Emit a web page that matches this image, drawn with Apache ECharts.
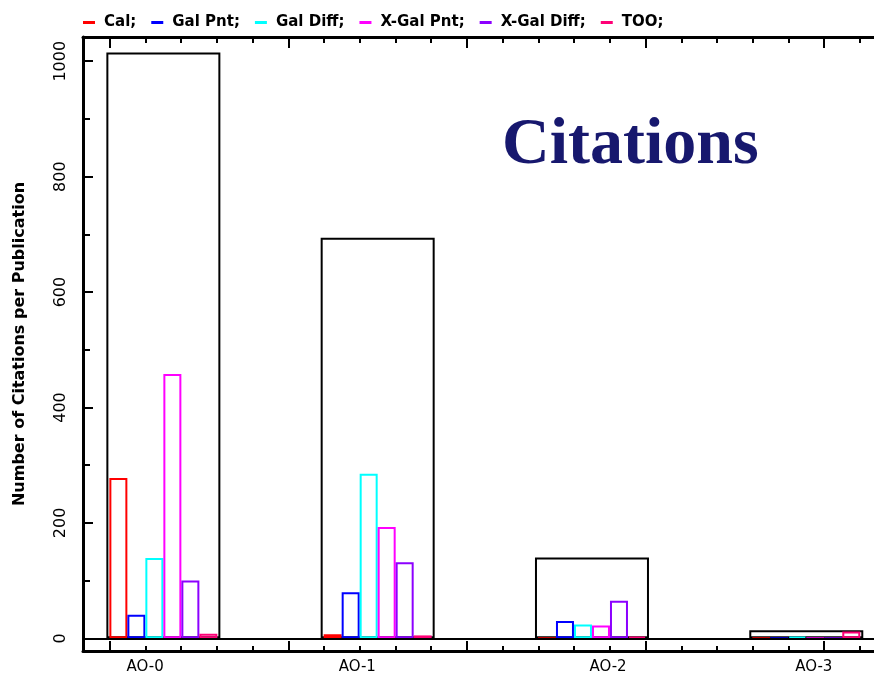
<!DOCTYPE html>
<html>
<head>
<meta charset="utf-8">
<script src="https://cdn.jsdelivr.net/npm/echarts@6/dist/echarts.min.js"></script>
<style>html,body{margin:0;padding:0;background:#fff;}#c{width:874px;height:681px;}</style>
</head>
<body>
<div id="c"></div>
<script>
// ---- data ----
var categories = ['AO-0', 'AO-1', 'AO-2', 'AO-3'];
var seriesNames = ['Cal', 'Gal Pnt', 'Gal Diff', 'X-Gal Pnt', 'X-Gal Diff', 'TOO'];
var cal      = [278, 7, 0, 0];
var galPnt   = [41, 80, 30, 0];
var galDiff  = [139, 285, 24, 3];
var xgalPnt  = [458, 193, 22, 0];
var xgalDiff = [100, 132, 65, 0];
var too      = [8, 5, 3, 12];
var total    = [1015, 694, 140, 14];
var yTickLabels = [0, 200, 400, 600, 800, 1000];
var yMinorTicks = [100, 300, 500, 700, 900];
var xLabelPos = [-0.085, 0.905, 2.075, 3.035];

// ---- styling ----
var colors = ['#ff0000', '#0000ff', '#00ffff', '#ff00ff', '#8c00ff', '#ff0077'];
var seriesValues = [cal, galPnt, galDiff, xgalPnt, xgalDiff, too];
var font = 'DejaVu Sans';
var XMIN = -0.375, XMAX = 3.316, YMIN = -22, YMAX = 1042;

var xMinor = [], xMajor = [];
for (var k = 0; k <= 21; k++) {
  var v = -0.25 + k / 6;
  if (k % 5 === 0) xMajor.push(v); else xMinor.push(v);
}

function pairs(arr) { return arr.map(function (v, i) { return [i, v]; }); }

var series = seriesValues.map(function (vals, i) {
  return {
    type: 'bar', name: seriesNames[i], xAxisIndex: 0, yAxisIndex: 0,
    data: pairs(vals), barWidth: 18, barGap: 0, z: 3,
    itemStyle: { color: 'rgba(0,0,0,0)', borderColor: colors[i], borderWidth: 2 },
    emphasis: { disabled: true }, animation: false
  };
});
series.push({
  type: 'bar', name: 'Total', xAxisIndex: 1, yAxisIndex: 0,
  data: pairs(total), barWidth: 114, z: 2,
  itemStyle: { color: 'rgba(0,0,0,0)', borderColor: '#000', borderWidth: 2 },
  emphasis: { disabled: true }, animation: false,
  markLine: { silent: true, symbol: 'none', z: 10, animation: false,
    label: { show: false },
    lineStyle: { color: '#000', width: 2, type: 'solid' },
    data: [{ yAxis: 0 }] }
});

var gridRect = { left: 83, right: 0, top: 37, bottom: 30 };
var axisLineStyle = { show: true, onZero: false, lineStyle: { color: '#000', width: 3 } };
var noLine = { show: false, onZero: false };

var chart = echarts.init(document.getElementById('c'), null, { renderer: 'canvas' });
chart.setOption({
  animation: false,
  backgroundColor: '#fff',
  title: {
    text: 'Citations', left: 497, top: 108,
    textStyle: { fontFamily: 'Liberation Serif', fontWeight: 'bold', fontSize: 66, color: '#17186e' }
  },
  legend: {
    left: 78, top: 10, icon: 'rect', itemWidth: 12, itemHeight: 3, itemGap: 15,
    selectedMode: false,
    formatter: function (n) { return n + ';'; },
    textStyle: { fontFamily: font, fontWeight: 'bold', fontSize: 15, color: '#000', padding: [0, 0, 0, 4] },
    data: seriesNames.map(function (n, i) { return { name: n, itemStyle: { color: colors[i], borderWidth: 0 } }; })
  },
  grid: [
    Object.assign({}, gridRect),
    Object.assign({}, gridRect)
  ],
  xAxis: [
    { type: 'value', gridIndex: 0, position: 'bottom', min: XMIN, max: XMAX,
      axisLine: axisLineStyle, splitLine: { show: false },
      axisTick: { show: true, inside: true, length: 5, customValues: xMinor, lineStyle: { color: '#000', width: 2 } },
      axisLabel: { show: true, customValues: xLabelPos, margin: 9,
        fontFamily: font, fontSize: 15, color: '#000',
        formatter: function (v) {
          for (var i = 0; i < xLabelPos.length; i++) if (Math.abs(xLabelPos[i] - v) < 1e-6) return categories[i];
          return '';
        } } },
    { type: 'value', gridIndex: 0, position: 'top', min: XMIN, max: XMAX,
      axisLine: axisLineStyle, splitLine: { show: false },
      axisTick: { show: true, inside: true, length: 6, customValues: xMinor, lineStyle: { color: '#000', width: 2 } },
      axisLabel: { show: false } },
    { type: 'value', gridIndex: 1, position: 'bottom', min: XMIN, max: XMAX,
      axisLine: noLine, splitLine: { show: false },
      axisTick: { show: true, inside: true, length: 10, customValues: xMajor, lineStyle: { color: '#000', width: 2 } },
      axisLabel: { show: false } },
    { type: 'value', gridIndex: 1, position: 'top', min: XMIN, max: XMAX,
      axisLine: noLine, splitLine: { show: false },
      axisTick: { show: true, inside: true, length: 11, customValues: xMajor, lineStyle: { color: '#000', width: 2 } },
      axisLabel: { show: false } }
  ],
  yAxis: [
    { type: 'value', gridIndex: 0, position: 'left', min: YMIN, max: YMAX,
      name: 'Number of Citations per Publication', nameLocation: 'middle', nameRotate: 90, nameGap: 55,
      nameTextStyle: { fontFamily: font, fontWeight: 'bold', fontSize: 16, color: '#000' },
      axisLine: axisLineStyle, splitLine: { show: false },
      axisTick: { show: true, inside: true, length: 10, customValues: yTickLabels, lineStyle: { color: '#000', width: 2 } },
      axisLabel: { show: true, customValues: yTickLabels, rotate: 90, margin: 14,
        fontFamily: font, fontSize: 16, color: '#000',
        formatter: function (v) { return String(v); } } },
    { type: 'value', gridIndex: 1, position: 'left', min: YMIN, max: YMAX,
      axisLine: noLine, splitLine: { show: false },
      axisTick: { show: true, inside: true, length: 7, customValues: yMinorTicks, lineStyle: { color: '#000', width: 2 } },
      axisLabel: { show: false } }
  ],
  series: series
});
</script>
</body>
</html>
